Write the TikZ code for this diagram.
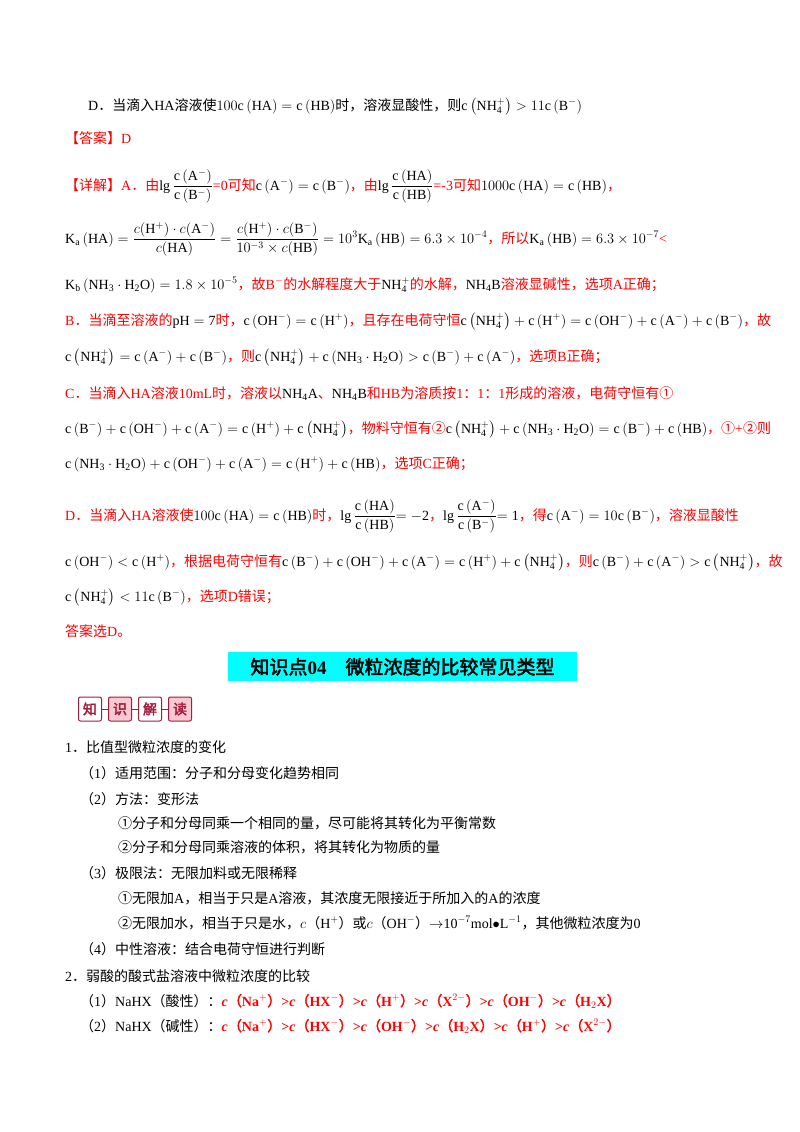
\documentclass[tikz,border=0pt]{standalone}
\usepackage{amsmath}
\usepackage{fontspec}
\setmainfont{Liberation Serif}
\newfontfamily\cjk[AutoFakeBold=2.5]{Noto Sans CJK SC}
\XeTeXinterchartokenstate=1
\newXeTeXintercharclass\CJKcls
\count255="4E00 \loop \XeTeXcharclass\count255=\CJKcls \advance\count255 1 \ifnum\count255<"A000 \repeat
\count255="3000 \loop \XeTeXcharclass\count255=\CJKcls \advance\count255 1 \ifnum\count255<"3040 \repeat
\count255="FF00 \loop \XeTeXcharclass\count255=\CJKcls \advance\count255 1 \ifnum\count255<"FFF0 \repeat
\count255="2460 \loop \XeTeXcharclass\count255=\CJKcls \advance\count255 1 \ifnum\count255<"2474 \repeat
\XeTeXinterchartoks 0 \CJKcls = {\begingroup\cjk}
\XeTeXinterchartoks 4095 \CJKcls = {\begingroup\cjk}
\XeTeXinterchartoks \CJKcls 0 = {\endgroup}
\XeTeXinterchartoks \CJKcls 4095 = {\endgroup}
\newcommand\cbr[1]{\mathrm{c}\left(\mathrm{#1}\right)}
\newcommand\bk[1]{{\color{black}$#1$}}
\newcommand\rc{\textit{\textbf{c}}}
\definecolor{badge}{RGB}{160,30,60}
\definecolor{badgefill}{RGB}{250,200,210}
\definecolor{titlebg}{RGB}{0,255,255}
\tikzset{txt/.style={anchor=base west,inner sep=0pt,font=\fontsize{14}{16}\selectfont},
rtxt/.style={txt,text=red},
bdg/.style={draw=badge,line width=1pt,rounded corners=2pt,minimum width=23pt,minimum height=24pt,inner sep=0pt,text=badge,font=\fontsize{14}{16}\selectfont\bfseries}}
\begin{document}
\begin{tikzpicture}[x=1pt,y=-1pt]
\useasboundingbox (0,0) rectangle (800,1132);
\fill[white] (0,0) rectangle (800,1132);
\node[txt] (l1) at (88,110) {D．当滴入HA溶液使$100\cbr{HA}=\cbr{HB}$时，溶液显酸性，则$\cbr{NH_4^+}>11\cbr{B^-}$};
\node[rtxt] (l2) at (65,143) {【答案】D};
\node[rtxt] (l3) at (65,190) {【详解】A．由\bk{\lg\dfrac{\cbr{A^-}}{\cbr{B^-}}}=0可知\bk{\cbr{A^-}=\cbr{B^-}}，由\bk{\lg\dfrac{\cbr{HA}}{\cbr{HB}}}=-3可知\bk{1000\cbr{HA}=\cbr{HB}}，};
\node[rtxt] (l4) at (65,243) {\bk{\mathrm{K_a}\left(\mathrm{HA}\right)=\dfrac{c(\mathrm{H^+})\cdot c(\mathrm{A^-})}{c(\mathrm{HA})}=\dfrac{c(\mathrm{H^+})\cdot c(\mathrm{B^-})}{10^{-3}\times c(\mathrm{HB})}=10^3\mathrm{K_a}\left(\mathrm{HB}\right)=6.3\times10^{-4}}，所以\bk{\mathrm{K_a}\left(\mathrm{HB}\right)=6.3\times10^{-7}}<};
\node[rtxt] (l5) at (65,289) {\bk{\mathrm{K_b}\left(\mathrm{NH_3\cdot H_2O}\right)=1.8\times10^{-5}}，故B$^-$的水解程度大于\bk{\mathrm{NH_4^+}}的水解，\bk{\mathrm{NH_4B}}溶液显碱性，选项A正确；};
\node[rtxt] (l6) at (65,325) {B．当滴至溶液的\bk{\mathrm{pH=7}}时，\bk{\cbr{OH^-}=\cbr{H^+}}，且存在电荷守恒\bk{\cbr{NH_4^+}+\cbr{H^+}=\cbr{OH^-}+\cbr{A^-}+\cbr{B^-}}，故};
\node[rtxt] (l7) at (65,361) {\bk{\cbr{NH_4^+}=\cbr{A^-}+\cbr{B^-}}，则\bk{\cbr{NH_4^+}+\cbr{NH_3\cdot H_2O}>\cbr{B^-}+\cbr{A^-}}，选项B正确；};
\node[rtxt] (l8) at (65,398) {C．当滴入HA溶液10mL时，溶液以\bk{\mathrm{NH_4A}}、\bk{\mathrm{NH_4B}}和HB为溶质按1：1：1形成的溶液，电荷守恒有①};
\node[rtxt] (l9) at (65,433) {\bk{\cbr{B^-}+\cbr{OH^-}+\cbr{A^-}=\cbr{H^+}+\cbr{NH_4^+}}，物料守恒有②\bk{\cbr{NH_4^+}+\cbr{NH_3\cdot H_2O}=\cbr{B^-}+\cbr{HB}}，①+②则};
\node[rtxt] (l10) at (65,468) {\bk{\cbr{NH_3\cdot H_2O}+\cbr{OH^-}+\cbr{A^-}=\cbr{H^+}+\cbr{HB}}，选项C正确；};
\node[rtxt] (l11) at (65,520) {D．当滴入HA溶液使\bk{100\cbr{HA}=\cbr{HB}}时，\bk{\lg\dfrac{\cbr{HA}}{\cbr{HB}}\mathrm{=-2}}，\bk{\lg\dfrac{\cbr{A^-}}{\cbr{B^-}}\mathrm{=1}}，得\bk{\cbr{A^-}=10\cbr{B^-}}，溶液显酸性};
\node[rtxt] (l12) at (65,566) {\bk{\cbr{OH^-}<\cbr{H^+}}，根据电荷守恒有\bk{\cbr{B^-}+\cbr{OH^-}+\cbr{A^-}=\cbr{H^+}+\cbr{NH_4^+}}，则\bk{\cbr{B^-}+\cbr{A^-}>\cbr{NH_4^+}}，故};
\node[rtxt] (l13) at (65,601) {\bk{\cbr{NH_4^+}<11\cbr{B^-}}，选项D错误；};
\node[rtxt] (l14) at (65,636) {答案选D。};
\fill[titlebg] (228,652) rectangle (577,681);
\node[txt,anchor=base,font=\fontsize{19}{21}\selectfont\bfseries] (title) at (402.5,674) {知识点04\quad 微粒浓度的比较常见类型};
\node[bdg,fill=white] (b1) at (90,709) {知};
\node[bdg,fill=badgefill] (b2) at (120,709) {识};
\node[bdg,fill=white] (b3) at (150,709) {解};
\node[bdg,fill=badgefill] (b4) at (180,709) {读};
\draw[badge,line width=1pt] (b1) -- (b2); \draw[badge,line width=1pt] (b2) -- (b3); \draw[badge,line width=1pt] (b3) -- (b4);
\node[txt] (m1) at (65,752) {1．比值型微粒浓度的变化};
\node[txt] (m2) at (80,778) {（1）适用范围：分子和分母变化趋势相同};
\node[txt] (m3) at (80,804) {（2）方法：变形法};
\node[txt] (m4) at (118,828) {①分子和分母同乘一个相同的量，尽可能将其转化为平衡常数};
\node[txt] (m5) at (118,852) {②分子和分母同乘溶液的体积，将其转化为物质的量};
\node[txt] (m6) at (80,878) {（3）极限法：无限加料或无限稀释};
\node[txt] (m7) at (118,903) {①无限加A，相当于只是A溶液，其浓度无限接近于所加入的A的浓度};
\node[txt] (m8) at (118,928) {②无限加水，相当于只是水，$c$（H$^+$）或$c$（OH$^-$）$\rightarrow$10$^{-7}$mol$\bullet$L$^{-1}$，其他微粒浓度为0};
\node[txt] (m9) at (80,954) {（4）中性溶液：结合电荷守恒进行判断};
\node[txt] (m10) at (65,981) {2．弱酸的酸式盐溶液中微粒浓度的比较};
\node[txt] (m11) at (80,1006) {（1）NaHX（酸性）：{\color{red}\bfseries\rc（Na$^+$）>\rc（HX$^-$）>\rc（H$^+$）>\rc（X$^{2-}$）>\rc（OH$^-$）>\rc（H$_2$X）}};
\node[txt] (m12) at (80,1031) {（2）NaHX（碱性）：{\color{red}\bfseries\rc（Na$^+$）>\rc（HX$^-$）>\rc（OH$^-$）>\rc（H$_2$X）>\rc（H$^+$）>\rc（X$^{2-}$）}};
\end{tikzpicture}
\end{document}
